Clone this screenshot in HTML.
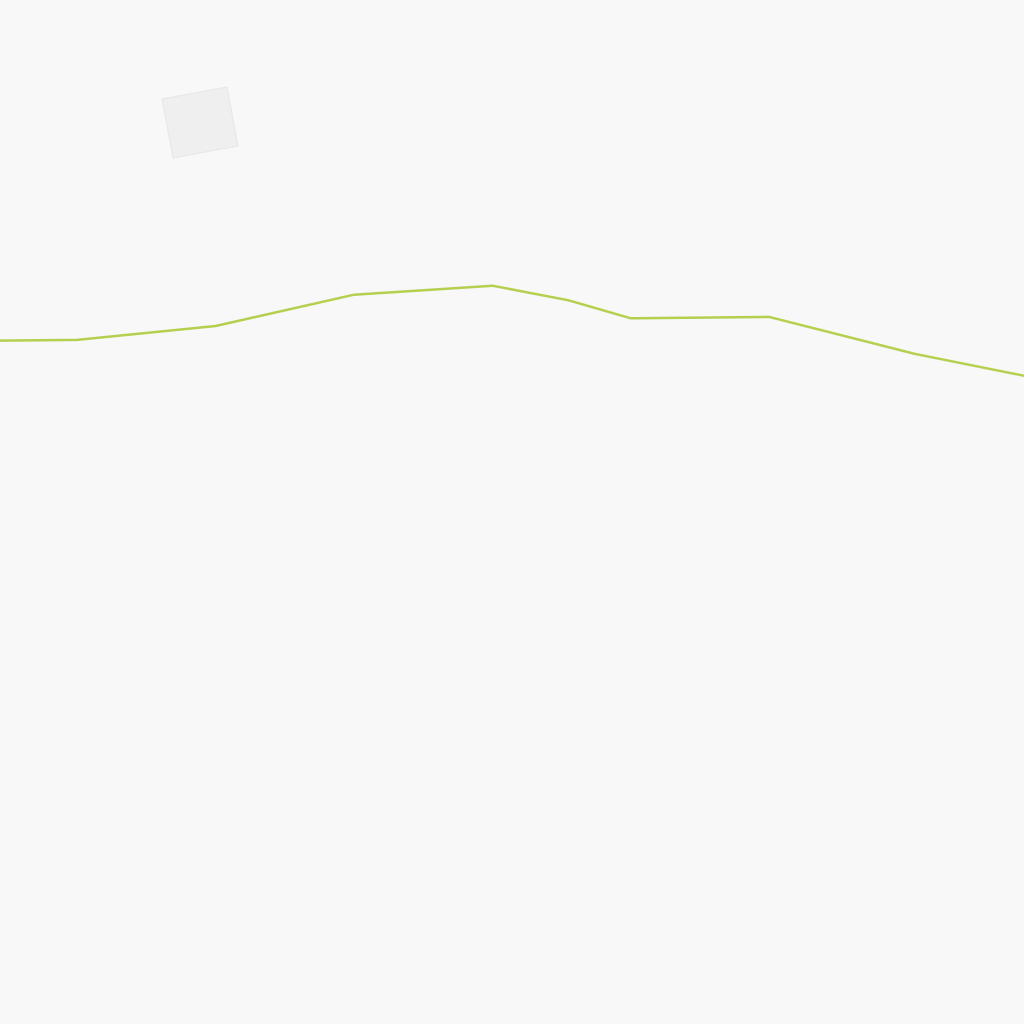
<!DOCTYPE html>
<html><head><meta charset="utf-8"><style>
html,body{margin:0;padding:0;background:#f8f8f8;width:1024px;height:1024px;overflow:hidden}
svg{display:block}
</style></head><body>
<svg id="chart" width="1024" height="1024">
<rect x="0" y="0" width="1024" height="1024" fill="#f8f8f8"/>
<polygon points="162,99 227,87 238,146 173,158" fill="#efefef" stroke="#e6e6e6" stroke-width="1"/>
<g id="series"></g>
</svg>
<script>
const xValues = [-1.1, 1, 3, 5, 7, 8.1, 9, 11, 13.1, 14.8];
const yValues = [41.4, 41.6, 43.6, 48.1, 49.4, 47.3, 44.7, 44.9, 39.6, 36.2];
const xScale = v => v * 69.2 + 8;
const yScale = v => 629 - v * 6.95;
const NS = 'http://www.w3.org/2000/svg';
const pts = xValues.map((x, i) => xScale(x).toFixed(1) + ',' + yScale(yValues[i]).toFixed(1)).join(' ');
const line = document.createElementNS(NS, 'polyline');
line.setAttribute('points', pts);
line.setAttribute('fill', 'none');
line.setAttribute('stroke', '#b5cf4f');
line.setAttribute('stroke-width', '2.5');
line.setAttribute('stroke-linejoin', 'round');


document.getElementById('series').appendChild(line);
</script>
</body></html>
